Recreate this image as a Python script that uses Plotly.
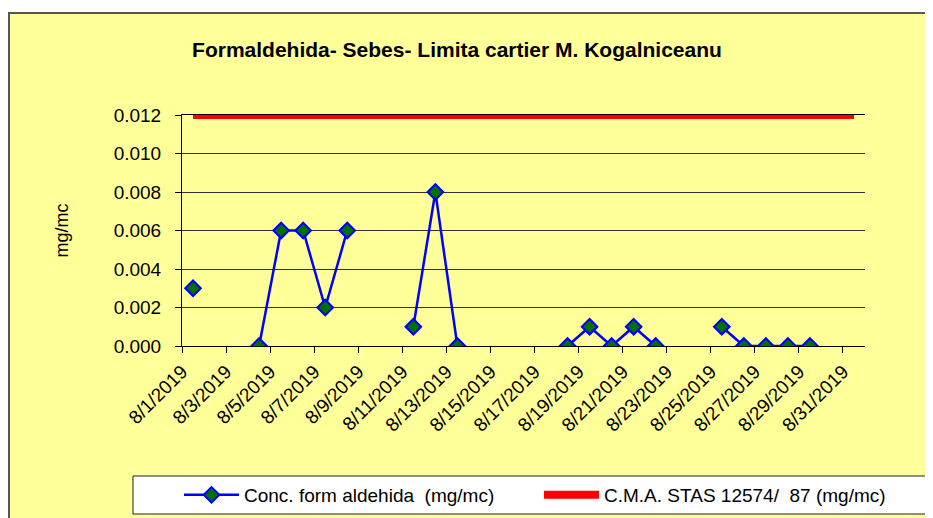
import plotly.graph_objects as go

# daily values for August 2019 (None = no measurement)
days = [f"2019-08-{d:02d}" for d in range(1, 32)]
conc_values = [
    0.003, None, None, 0.000, 0.006, 0.006, 0.002, 0.006, None, None,
    0.001, 0.008, 0.000, None, None, None, None, 0.000, 0.001, 0.000,
    0.001, 0.000, None, None, 0.001, 0.000, 0.000, 0.000, 0.000, None,
    None,
]
limit_values = [0.012] * 31
tick_days = days[::2]
tick_labels = [f"8/{int(d[-2:])}/2019" for d in tick_days]
y_ticks = [0.000, 0.002, 0.004, 0.006, 0.008, 0.010, 0.012]

# the page has an 8px body margin, so figure pixels = page pixels - 8
OFF = 8
W, H = 933, 518
L, R, T, B = 182 - OFF, 865 - OFF, 115 - OFF, 346 - OFF  # plot area
FONT = "Liberation Sans, Arial, sans-serif"


def px_x(x):
    return (x - OFF - L) / (R - L)


def px_y(y):
    return (B - (y - OFF)) / (B - T)


fig = go.Figure()
fig.add_trace(go.Scatter(
    x=days, y=conc_values, name="Conc. form aldehida  (mg/mc)",
    mode="lines+markers", xperiod=86400000, xperiodalignment="middle",
    line=dict(color="#0000ff", width=2.5),
    marker=dict(symbol="diamond", size=12, color="#007000",
                line=dict(color="#0000ff", width=2)),
))
fig.add_trace(go.Scatter(
    x=days, y=limit_values, name="C.M.A. STAS 12574/  87 (mg/mc)",
    mode="lines", xperiod=86400000, xperiodalignment="middle",
    line=dict(color="#ff0000", width=8),
))

# chart frame and legend box (page pixel coordinates)
fig.add_shape(type="rect", xref="paper", yref="paper", layer="below",
              x0=px_x(9), x1=px_x(1000), y0=px_y(600), y1=px_y(13),
              fillcolor="#ffff99", line=dict(color="#555555", width=2))
fig.add_shape(type="rect", xref="paper", yref="paper", layer="below",
              x0=px_x(133), x1=px_x(1000), y0=px_y(514), y1=px_y(476),
              fillcolor="white", line=dict(color="#222222", width=1))

fig.update_layout(
    width=W, height=H,
    margin=dict(l=L, r=W - R, t=T, b=H - B),
    paper_bgcolor="white", plot_bgcolor="#ccffcc",
    font=dict(family=FONT, size=19, color="black"),
    title=dict(text="<b>Formaldehida- Sebes- Limita cartier M. Kogalniceanu</b>",
               x=(457 - OFF) / W, xanchor="center", xref="container",
               y=1 - (50 - OFF) / H, yanchor="middle", yref="container",
               font=dict(size=21)),
    xaxis=dict(
        type="date", range=["2019-08-01", "2019-09-01"],
        tickvals=tick_days, ticktext=tick_labels, tickangle=-45,
        ticks="outside", ticklen=6, tickcolor="black",
        showgrid=False, showline=True, linecolor="black", mirror=True,
        zeroline=False,
    ),
    yaxis=dict(
        range=[0, 0.012], tickvals=y_ticks, tickformat=".3f",
        ticks="outside", ticklen=6, tickcolor="black", ticklabelstandoff=10,
        showgrid=True, gridcolor="#333333", gridwidth=1,
        showline=True, linecolor="black", zeroline=False,
        title=dict(text="mg/mc", standoff=40, font=dict(size=18)),
    ),
    showlegend=True,
    legend=dict(orientation="h", x=px_x(179), xanchor="left",
                y=px_y(495), yanchor="middle", bgcolor="rgba(0,0,0,0)",
                entrywidth=290, itemwidth=55, font=dict(size=19)),
)

fig.write_html("out.html")
